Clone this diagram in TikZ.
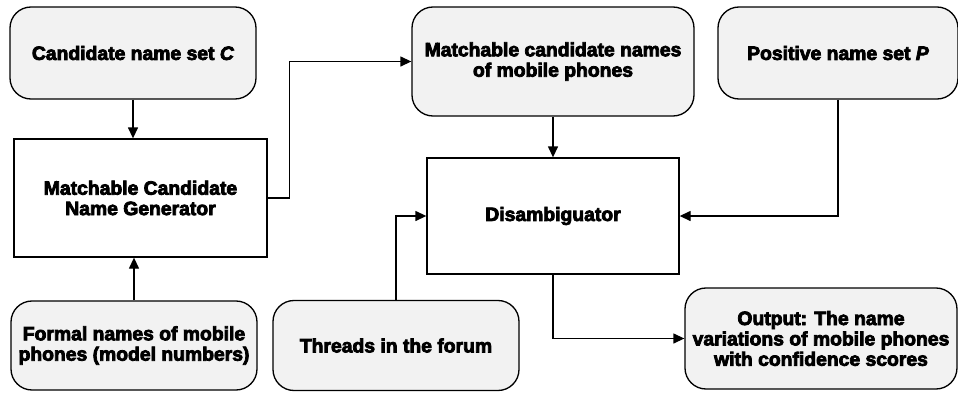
\documentclass[tikz,border=0pt]{standalone}
\usepackage{fontspec}
\setmainfont{Liberation Sans}[BoldFeatures={FakeBold=4}, BoldItalicFeatures={FakeBold=4}]
\usetikzlibrary{arrows.meta}

\definecolor{softgray}{HTML}{F2F2F2}

\tikzset{
  every node/.style={font=\fontsize{11}{11.6}\selectfont\bfseries, align=center, inner sep=0pt},
  datum/.style={draw, fill=softgray, rounded corners=0.42cm, line width=0.75pt},
  module/.style={draw, fill=white, line width=0.75pt},
  flow/.style={-{Triangle[length=0.22cm, width=0.2cm]}, line width=0.75pt},
}

\begin{document}
\begin{tikzpicture}
  \useasboundingbox (0,0) rectangle (19.16,7.84);

  \node (cand) [datum, minimum width=4.92cm, minimum height=1.84cm] at (2.66,6.78) {Candidate name set \textit{C}};
  \node (gen) [module, minimum width=5.06cm, minimum height=2.36cm] at (2.81,3.88) {Matchable Candidate\\Name Generator};
  \node (formal) [datum, minimum width=4.92cm, minimum height=1.78cm] at (2.68,0.93) {Formal names of mobile\\phones (model numbers)};
  \node (threads) [datum, minimum width=4.92cm, minimum height=1.80cm] at (7.92,0.93) {Threads in the forum};
  \node (match) [datum, minimum width=5.64cm, minimum height=2.18cm] at (11.06,6.61) {Matchable candidate names\\of mobile phones};
  \node (disamb) [module, minimum width=5.04cm, minimum height=2.32cm] at (11.06,3.52) {Disambiguator};
  \node (pos) [datum, minimum width=4.8cm, minimum height=1.84cm] at (16.76,6.78) {Positive name set \textit{P}};
  \node (out) [datum, minimum width=5.44cm, minimum height=2.02cm] at (16.42,1.07) {Output: The name\\variations of mobile phones\\with confidence scores};

  \draw[flow] (cand.south) -- (cand.south |- gen.north);
  \draw[flow] (formal.north) -- (formal.north |- gen.south);
  \draw[flow] (gen.east) -- ++(0.44,0) |- (match.west);
  \draw[flow] (match.south) -- (disamb.north);
  \draw[flow] (threads.north) |- (disamb.west);
  \draw[flow] (pos.south) |- (disamb.east);
  \draw[flow] (disamb.south) |- (out.west);
\end{tikzpicture}
\end{document}
